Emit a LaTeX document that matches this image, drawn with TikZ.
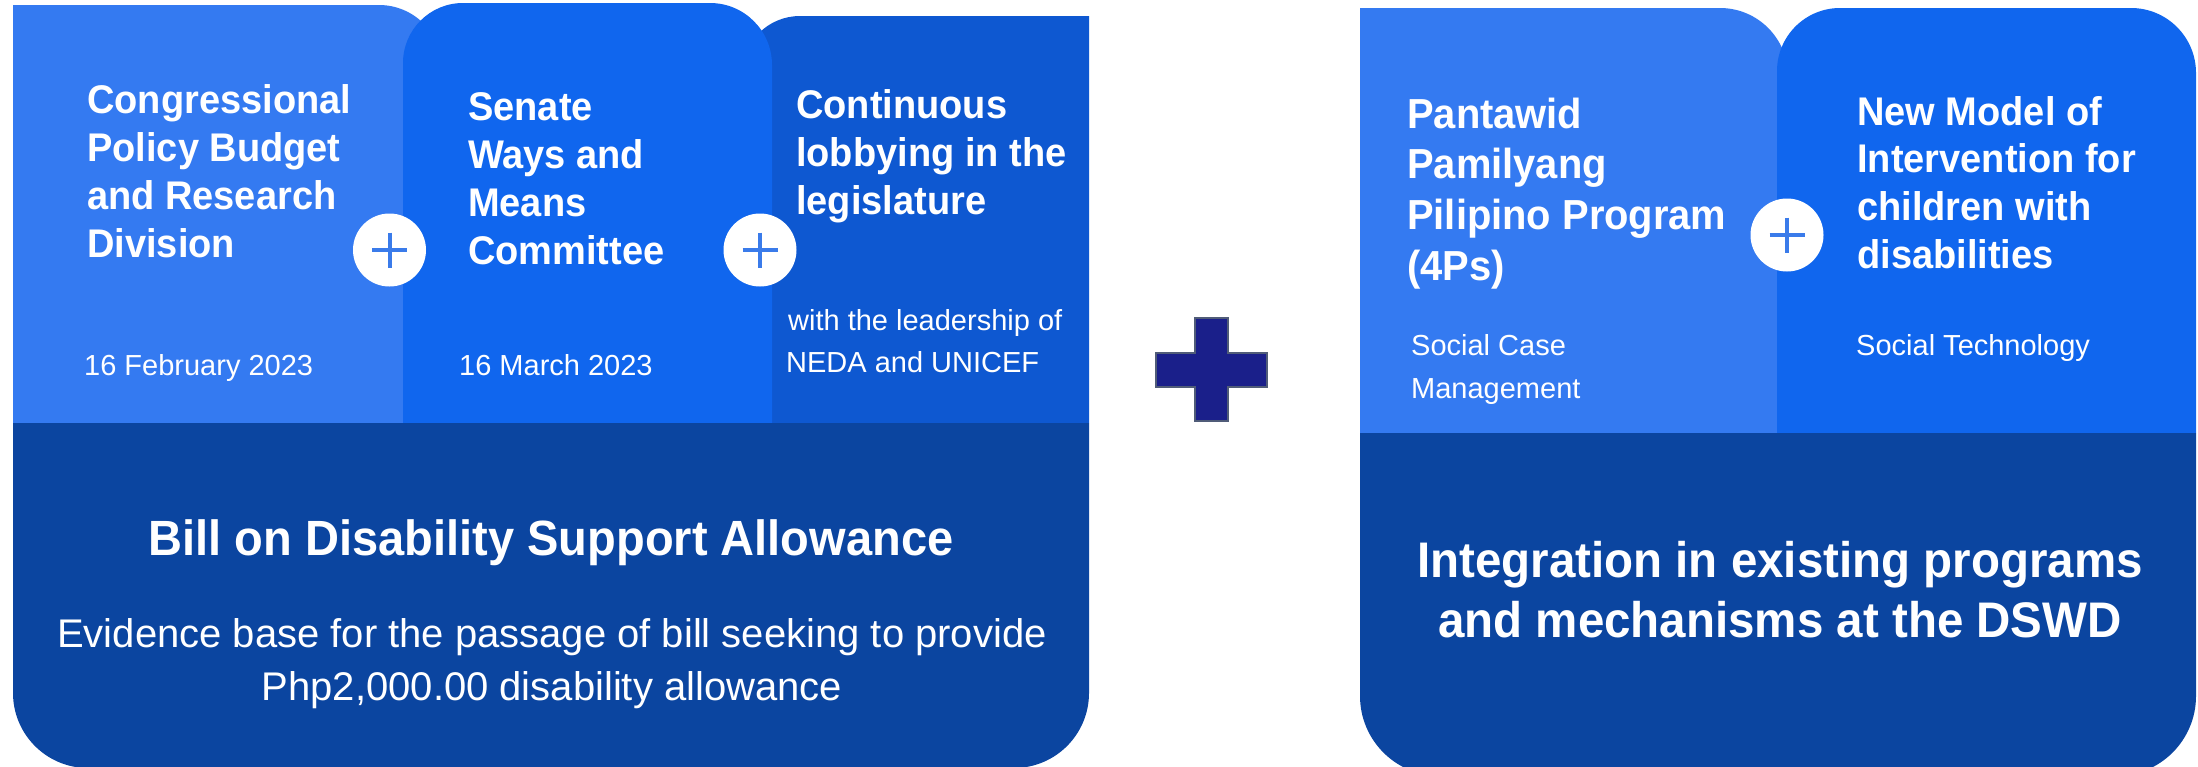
\documentclass[tikz,border=0pt]{standalone}
\usepackage{fontspec}
\setmainfont{Liberation Sans}[BoldFeatures={FakeStretch=0.95}]
\usetikzlibrary{calc}

\definecolor{tabA}{RGB}{52,122,241}
\definecolor{tabB}{RGB}{16,102,238}
\definecolor{tabC}{RGB}{14,88,209}
\definecolor{base}{RGB}{11,69,160}
\definecolor{plusblue}{RGB}{58,123,234}
\definecolor{navyplus}{RGB}{26,31,138}
\definecolor{plusedge}{RGB}{80,92,120}

\tikzset{
  head/.style={font=\bfseries\fontsize{40}{48}\selectfont, text=white, anchor=base west, inner sep=0pt},
  bighead/.style={head, font=\bfseries\fontsize{42}{50}\selectfont},
  note/.style={font=\fontsize{29}{35}\selectfont, text=white, anchor=base west, inner sep=0pt},
  bigtitle/.style={font=\bfseries\fontsize{49.5}{58}\selectfont, text=white, anchor=base, inner sep=0pt},
  subline/.style={font=\fontsize{40}{48}\selectfont, text=white, anchor=base, inner sep=0pt},
  joint/.style={circle, fill=white, minimum size=73pt, inner sep=0pt},
  jointmark/.style={draw=plusblue, line width=4pt},
}

\begin{document}
\begin{tikzpicture}[x=1pt, y=-1pt]
\useasboundingbox (0,0) rectangle (2198,766);
\fill[white] (0,0) rectangle (2198,766);

% ---------- left group: legislative track ----------
\fill[tabA] (13,423) -- (13,5) -- (379,5) arc[start angle=270, end angle=360, radius=63] -- (442,423) -- cycle;
\fill[tabC] (742,423) -- (742,74) arc[start angle=180, end angle=270, radius=58] -- (1089,16) -- (1089,423) -- cycle;
\fill[tabB] (403,423) -- (403,63) arc[start angle=180, end angle=270, radius=60] -- (710,3) arc[start angle=270, end angle=360, radius=62] -- (772,423) -- cycle;
\fill[base] (13,423) -- (1089,423) -- (1089,693) arc[start angle=0, end angle=90, radius=75] -- (88,768) arc[start angle=90, end angle=180, radius=75] -- cycle;

\foreach \t [count=\i from 0] in {Congressional, Policy Budget, and Research, Division}
  \node[head] (cp\i) at (87,113+48*\i) {\t};
\node[note] (cpdate) at (84,375) {16 February 2023};

\foreach \t [count=\i from 0] in {Senate, Ways and, Means, Committee}
  \node[head] (sw\i) at (468,120+48.3*\i) {\t};
\node[note] (swdate) at (459,375) {16 March 2023};

\foreach \t [count=\i from 0] in {Continuous, lobbying in the, legislature}
  \node[head] (cl\i) at (796,118+48*\i) {\t};
\node[note] (cllead) at (788,330) {with the leadership of};
\node[note] (clneda) at (786,372) {NEDA and UNICEF};

\node[bigtitle] (billtitle) at (551,555) {Bill on Disability Support Allowance};
\node[subline] (billsub1) at (552,647) {Evidence base for the passage of bill seeking to provide};
\node[subline] (billsub2) at (552,700) {Php2,000.00 disability allowance};

\node[joint] (j1) at (389.5,250) {};
\node[joint] (j2) at (760,250) {};

% ---------- central plus ----------
\filldraw[fill=navyplus, draw=plusedge, line width=1.5pt]
  (1195,318) -- (1228,318) -- (1228,353) -- (1267,353) -- (1267,387) -- (1228,387)
  -- (1228,421) -- (1195,421) -- (1195,387) -- (1156,387) -- (1156,353) -- (1195,353) -- cycle;

% ---------- right group: DSWD programmes ----------
\fill[tabA] (1360,433) -- (1360,8) -- (1720,8) arc[start angle=270, end angle=360, radius=68] -- (1788,433) -- cycle;
\fill[tabB] (1777,433) -- (1777,71) arc[start angle=180, end angle=270, radius=63] -- (2131,8) arc[start angle=270, end angle=360, radius=65] -- (2196,433) -- cycle;
\fill[base] (1360,433) -- (2196,433) -- (2196,696) arc[start angle=0, end angle=90, radius=80] -- (1440,776) arc[start angle=90, end angle=180, radius=80] -- cycle;

\foreach \t [count=\i from 0] in {Pantawid, Pamilyang, Pilipino Program, (4Ps)}
  \node[bighead] (pp\i) at (1407,128+50.7*\i) {\t};
\node[note] (ppcase1) at (1411,355) {Social Case};
\node[note] (ppcase2) at (1411,398) {Management};

\foreach \t [count=\i from 0] in {New Model of, Intervention for, children with, disabilities}
  \node[head] (nm\i) at (1857,125+47.7*\i) {\t};
\node[note] (nmtech) at (1856,355) {Social Technology};

\node[bigtitle, font=\bfseries\fontsize{50}{60}\selectfont] (integ1) at (1780,577) {Integration in existing programs};
\node[bigtitle, font=\bfseries\fontsize{50}{60}\selectfont] (integ2) at (1780,637) {and mechanisms at the DSWD};

\node[joint] (j3) at (1787,235) {};

% plus marks inside the white joints
\foreach \j in {j1,j2,j3}{
  \draw[jointmark] ($(\j.center)+(-17.5,0)$) -- ($(\j.center)+(17.5,0)$);
  \draw[jointmark] ($(\j.center)+(0,-17.5)$) -- ($(\j.center)+(0,17.5)$);
}
\end{tikzpicture}
\end{document}
